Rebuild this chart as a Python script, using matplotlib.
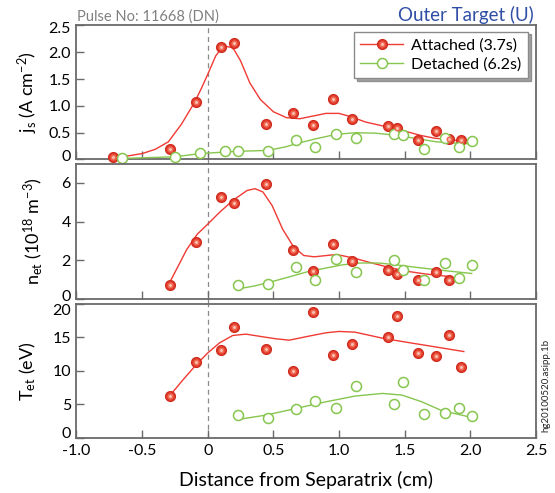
import numpy as np
import matplotlib
matplotlib.use("Agg")
from matplotlib import pyplot as plt
from matplotlib.lines import Line2D
from matplotlib.legend_handler import HandlerTuple
from matplotlib.transforms import ScaledTranslation

plt.rcParams['font.family'] = ['Lato', 'DejaVu Sans']
plt.rcParams['mathtext.fontset'] = 'custom'
plt.rcParams['mathtext.rm'] = 'Lato'
plt.rcParams['mathtext.it'] = 'Lato:italic'

nan = np.nan

# probe positions (cm from separatrix)
x_att = [-0.72, -0.29, -0.09, 0.10, 0.20, 0.44, 0.65, 0.80, 0.95, 1.10, 1.37, 1.44, 1.60, 1.74, 1.84, 1.93]
x_det = [-0.65, -0.25, -0.06, 0.13, 0.23, 0.46, 0.67, 0.82, 0.98, 1.13, 1.42, 1.49, 1.65, 1.81, 1.91, 2.01]

# measured profiles, attached (3.7s) / detached (6.2s)
js_att = [0.04, 0.19, 1.08, 2.10, 2.18, 0.66, 0.86, 0.64, 1.12, 0.76, 0.62, 0.59, 0.37, 0.54, 0.38, 0.37]
js_det = [0.02, 0.04, 0.12, 0.15, 0.15, 0.15, 0.37, 0.23, 0.48, 0.41, 0.48, 0.45, 0.20, 0.40, 0.24, 0.34]
ne_att = [nan, 0.73, 2.96, 5.27, 4.95, 5.96, 2.54, 1.43, 2.82, 1.98, 1.51, 1.29, 0.99, 1.39, 0.99, nan]
ne_det = [nan, nan, nan, nan, 0.71, 0.78, 1.65, 0.99, 2.07, 1.37, 2.00, 1.51, 0.99, 1.84, 1.08, 1.76]
te_att = [nan, 6.3, 11.3, 13.2, 16.6, 13.3, 10.0, 18.8, 12.4, 14.0, 15.1, 18.2, 12.7, 12.2, 15.4, 10.6]
te_det = [nan, nan, nan, nan, 3.4, 3.05, 4.4, 5.5, 4.5, 7.7, 5.0, 8.3, 3.65, 3.7, 4.5, 3.3]

# smoothed fits
js_fit_att_x = [-0.72, -0.6, -0.5, -0.4, -0.3, -0.2, -0.1, -0.05, 0.0, 0.06, 0.1, 0.14, 0.18, 0.2, 0.25, 0.32,
                0.4, 0.5, 0.6, 0.7, 0.8, 0.9, 1.0, 1.1, 1.2, 1.36, 1.47, 1.62, 1.72, 1.91]
js_fit_att_y = [0.03, 0.07, 0.11, 0.19, 0.33, 0.66, 1.07, 1.32, 1.59, 1.93, 2.06, 2.11, 2.09, 2.05, 1.84, 1.43,
                1.12, 0.89, 0.78, 0.76, 0.81, 0.86, 0.86, 0.79, 0.70, 0.61, 0.55, 0.45, 0.40, 0.35]
js_fit_det_x = [-0.65, -0.25, -0.06, 0.2, 0.46, 0.6, 0.68, 0.83, 0.98, 1.13, 1.28, 1.44, 1.59, 1.74, 1.92, 2.01]
js_fit_det_y = [0.02, 0.05, 0.11, 0.15, 0.17, 0.24, 0.30, 0.39, 0.47, 0.50, 0.49, 0.45, 0.39, 0.33, 0.30, 0.29]

ne_fit_att_x = [-0.30, -0.24, -0.16, -0.08, 0.0, 0.09, 0.19, 0.30, 0.36, 0.42, 0.49, 0.57, 0.65, 0.73, 0.81,
                0.98, 1.11, 1.25, 1.38, 1.52, 1.65, 1.84]
ne_fit_att_y = [0.73, 1.51, 2.56, 3.35, 3.87, 4.48, 5.09, 5.61, 5.70, 5.53, 4.83, 3.61, 2.73, 2.25, 2.18,
                2.30, 2.12, 1.86, 1.63, 1.43, 1.30, 1.16]
ne_fit_det_x = [0.23, 0.36, 0.49, 0.63, 0.76, 0.90, 1.03, 1.16, 1.30, 1.43, 1.57, 1.70, 1.84, 2.01]
ne_fit_det_y = [0.52, 0.68, 0.90, 1.16, 1.41, 1.60, 1.77, 1.86, 1.86, 1.77, 1.65, 1.55, 1.44, 1.32]

te_fit_att_x = [-0.29, -0.19, -0.09, 0.0, 0.09, 0.19, 0.29, 0.42, 0.52, 0.62, 0.77, 0.9, 1.0, 1.12, 1.33, 1.48,
                1.7, 1.95]
te_fit_att_y = [6.3, 8.65, 10.9, 12.7, 14.2, 15.3, 15.5, 15.1, 14.8, 14.6, 15.2, 15.7, 15.9, 15.8, 14.9, 14.4,
                13.7, 12.9]
te_fit_det_x = [0.24, 0.44, 0.67, 0.9, 1.12, 1.33, 1.48, 1.63, 1.78, 1.98]
te_fit_det_y = [2.8, 3.4, 4.4, 5.4, 6.25, 6.65, 6.4, 5.4, 4.1, 3.2]

x_ticks = [-1.0, -0.5, 0, 0.5, 1.0, 1.5, 2.0, 2.5]
x_ticklabels = ['-1.0', '-0.5', '0', '0.5', '1.0', '1.5', '2.0', '2.5']

RED = '#F03A34'
GREEN = '#86C64E'
FRAME = '#6a6a6a'

fig = plt.figure(figsize=(5.55, 4.93), dpi=100)
left, width = 0.1378, 0.828
ax1 = fig.add_axes([left, 0.6765, width, 0.2718])
ax2 = fig.add_axes([left, 0.3935, width, 0.2748])
ax3 = fig.add_axes([left, 0.1116, width, 0.2718])


def red_dots(ax, x, y):
    kw = dict(ls='none', marker='o', clip_on=False)
    h0 = ax.plot(x, y, ms=7.2, mfc='#E2392A', mec='#CE2C1E', mew=0.8, zorder=4, **kw)[0]
    h1 = ax.plot(x, y, ms=4.4, mfc='#EF6B55', mec='none', zorder=5, **kw)[0]
    h2 = ax.plot(x, y, ms=2.1, mfc='#FBC3B2', mec='none', zorder=6, **kw)[0]
    return h0, h1, h2


def green_rings(ax, x, y):
    return ax.plot(x, y, ls='none', marker='o', ms=7.2, mfc='white', mec=GREEN, mew=1.1,
                   zorder=4, clip_on=False)[0]


def nudge(label, dy_px):
    # shift an end tick label vertically so it stays inside its panel
    label.set_transform(label.get_transform() + ScaledTranslation(0, dy_px / 100, fig.dpi_scale_trans))


panels = [
    (ax1, js_att, js_det, js_fit_att_x, js_fit_att_y, js_fit_det_x, js_fit_det_y),
    (ax2, ne_att, ne_det, ne_fit_att_x, ne_fit_att_y, ne_fit_det_x, ne_fit_det_y),
    (ax3, te_att, te_det, te_fit_att_x, te_fit_att_y, te_fit_det_x, te_fit_det_y),
]

for ax, ya, yd, fax, fay, fdx, fdy in panels:
    ax.plot(fax, fay, color=RED, lw=1.0, zorder=3)
    ax.plot(fdx, fdy, color=GREEN, lw=1.0, zorder=3)
    red_dots(ax, x_att, ya)
    green_rings(ax, x_det, yd)
    ax.axvline(0, ymin=-0.035 if ax is not ax3 else 0, ymax=1, color='#8a8a8a', lw=0.9,
               ls=(0, (4, 3)), zorder=1, clip_on=False)
    ax.set_xlim(-1.0, 2.5)
    ax.set_xticks(x_ticks)
    for s in ax.spines.values():
        s.set_color(FRAME)
        s.set_linewidth(1.3)
    ax.tick_params(direction='in', length=6, width=1, color=FRAME, labelsize=11.5,
                   pad=4, top=False, right=False)

ax1.set_ylim(0, 2.5)
ax1.set_yticks([0, 0.5, 1.0, 1.5, 2.0, 2.5])
ax1.set_yticklabels(['0', '0.5', '1.0', '1.5', '2.0', '2.5'])
ax2.set_ylim(0, 7)
ax2.set_yticks([0, 2, 4, 6])
ax2.set_yticklabels(['0', '2', '4', '6'])
ax3.set_ylim(0, 20)
ax3.set_yticks([0, 5, 10, 15, 20])
ax3.set_yticklabels(['0', '5', '10', '15', '20'])

ax1.tick_params(labelbottom=False)
ax2.tick_params(labelbottom=False)
ax3.set_xticklabels(x_ticklabels)

nudge(ax1.get_yticklabels()[0], 4)
nudge(ax1.get_yticklabels()[-1], -2.5)
nudge(ax2.get_yticklabels()[0], 4)
nudge(ax3.get_yticklabels()[0], 5)
nudge(ax3.get_yticklabels()[-1], -6)

ax1.set_ylabel(r'$\mathrm{j_s}$ (A cm$^{-2}$)', fontsize=13)
ax2.set_ylabel(r'$\mathrm{n_{et}}$ (10$^{18}$ m$^{-3}$)', fontsize=13)
ax3.set_ylabel(r'$\mathrm{T_{et}}$ (eV)', fontsize=13)
ax1.yaxis.set_label_coords(-0.080, 0.5)
ax2.yaxis.set_label_coords(-0.068, 0.5)
ax3.yaxis.set_label_coords(-0.083, 0.5)
ax3.set_xlabel('Distance from Separatrix (cm)', fontsize=14)
ax3.xaxis.set_label_coords(0.5, -0.245)

# legend with shaded marker handles
h_att = (Line2D([], [], color=RED, lw=1.0, marker='o', ms=7.2, mfc='#E2392A', mec='#CE2C1E', mew=0.8),
         Line2D([], [], ls='none', marker='o', ms=4.4, mfc='#EF6B55', mec='none'),
         Line2D([], [], ls='none', marker='o', ms=2.1, mfc='#FBC3B2', mec='none'))
h_det = Line2D([], [], color=GREEN, lw=1.0, marker='o', ms=7.2, mfc='white', mec=GREEN, mew=1.1)
leg = ax1.legend([h_att, h_det], ['Attached (3.7s)', 'Detached (6.2s)'],
                 handler_map={tuple: HandlerTuple(ndivide=1)},
                 loc='upper right', bbox_to_anchor=(0.9826, 0.9537), borderaxespad=0,
                 fontsize=11.5, handlelength=2.7, handletextpad=0.5, labelspacing=0.3,
                 borderpad=0.4, fancybox=False, shadow=True, framealpha=1)
leg.get_frame().set_edgecolor('#8a8a8a')
leg.get_frame().set_linewidth(1.0)

fig.text(77 / 555, 1 - 17 / 493, 'Pulse No: 11668 (DN)', color='#808080', fontsize=10.5,
         ha='left', va='center')
fig.text(534 / 555, 1 - 14.5 / 493, 'Outer Target (U)', color='#2F4FA6', fontsize=13.5,
         ha='right', va='center')
fig.text(0.984, 0.219, 'hg20100520.asipp.1b', fontsize=7, rotation=90,
         ha='center', va='center', color='#222222')

fig.savefig('out.png', dpi=100)
